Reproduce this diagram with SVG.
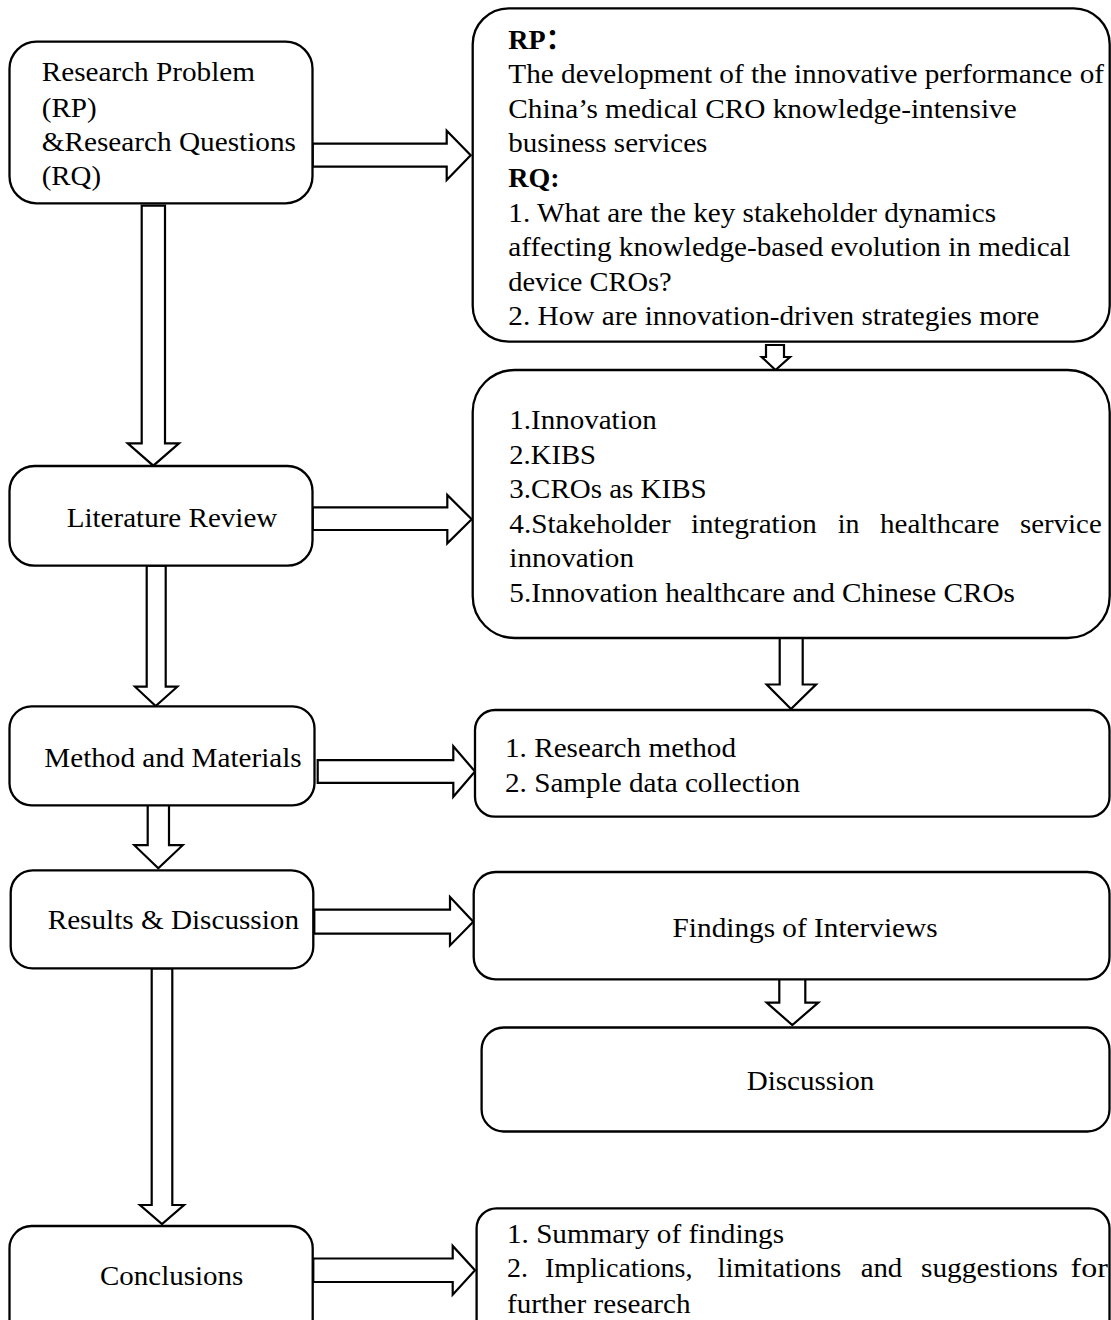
<svg xmlns="http://www.w3.org/2000/svg" width="1111" height="1320" viewBox="0 0 1111 1320">
<style>
  .box { fill: #fff; stroke: #000; stroke-width: 2.3; }
  .arr { fill: #fff; stroke: #000; stroke-width: 2.2; stroke-linejoin: miter; }
  text { font-family: "Liberation Serif", "Noto Sans CJK SC", serif; font-size: 28px; fill: #000; }
  .b { font-weight: bold; }
</style>
<rect width="1111" height="1320" fill="#fff"/>

<g id="connectors">
  <polygon class="arr" points="312.7,143.7 446.7,143.7 446.7,130.7 470.7,155.3 446.7,180 446.7,166.7 312.7,166.7"/>
  <polygon class="arr" points="312.7,507.3 447.3,507.3 447.3,495 471.7,519.3 447.3,543.3 447.3,530 312.7,530"/>
  <polygon class="arr" points="317.7,760.2 453.3,760.2 453.3,746.3 475,771.5 453.3,796.8 453.3,782.9 317.7,782.9"/>
  <polygon class="arr" points="314.3,909.6 450,909.6 450,897 473.3,921.8 450,945.4 450,933.6 314.3,933.6"/>
  <polygon class="arr" points="313.3,1258.5 452.7,1258.5 452.7,1245.9 475,1270.3 452.7,1294.7 452.7,1282 313.3,1282"/>
  <polygon class="arr" points="141.7,205.7 165,205.7 165,443.3 179,443.3 153.3,465.7 127.7,443.3 141.7,443.3"/>
  <polygon class="arr" points="146.7,565.7 165.7,565.7 165.7,686.7 177.3,686.7 155.7,706 135,686.7 146.7,686.7"/>
  <polygon class="arr" points="147.7,805 169,805 169,845.2 182.7,845.2 158.3,868.3 134.3,845.2 147.7,845.2"/>
  <polygon class="arr" points="151.7,968.5 172.3,968.5 172.3,1205 184,1205 162,1224 140,1205 151.7,1205"/>
  <polygon class="arr" points="766,345 784,345 784,357 790,357 775.5,370 761.7,357 766,357"/>
  <polygon class="arr" points="779.7,638 802.7,638 802.7,684.5 816,684.5 791,709 766.7,684.5 779.7,684.5"/>
  <polygon class="arr" points="779.3,976.7 805.3,976.7 805.3,1002.7 818.3,1002.7 792.3,1025 766.7,1002.7 779.3,1002.7"/>
</g>

<g id="node-rprq">
  <rect class="box" x="9.5" y="41.7" width="303" height="161.6" rx="27"/>
  <text x="41.7" y="81" textLength="213.3" lengthAdjust="spacingAndGlyphs">Research Problem</text>
  <text x="41.7" y="116.5" textLength="55" lengthAdjust="spacingAndGlyphs">(RP)</text>
  <text x="41.7" y="150.7" textLength="254.3" lengthAdjust="spacingAndGlyphs">&amp;Research Questions</text>
  <text x="41.7" y="185" textLength="59.3" lengthAdjust="spacingAndGlyphs">(RQ)</text>
</g>

<g id="node-literature">
  <rect class="box" x="9.5" y="466" width="303" height="99.7" rx="25"/>
  <text x="66.7" y="526.7" textLength="210.6" lengthAdjust="spacingAndGlyphs">Literature Review</text>
</g>

<g id="node-method">
  <rect class="box" x="9.5" y="706.3" width="305" height="99" rx="22"/>
  <text x="44.3" y="767.3" textLength="257.4" lengthAdjust="spacingAndGlyphs">Method and Materials</text>
</g>

<g id="node-results">
  <rect class="box" x="10.7" y="870.4" width="302.6" height="98" rx="22"/>
  <text x="47.7" y="929.4" textLength="251.3" lengthAdjust="spacingAndGlyphs">Results &amp; Discussion</text>
</g>

<g id="node-conclusions">
  <rect class="box" x="9.5" y="1226" width="303.2" height="130" rx="22"/>
  <text x="100" y="1285" textLength="143.3" lengthAdjust="spacingAndGlyphs">Conclusions</text>
</g>

<g id="node-rp-detail">
  <rect class="box" x="472.7" y="8.3" width="637" height="333.4" rx="36"/>
  <text class="b" x="508.3" y="49.3">RP：</text>
  <text x="508.3" y="83.3" textLength="595.7" lengthAdjust="spacingAndGlyphs">The development of the innovative performance of</text>
  <text x="508.3" y="117.7" textLength="508.4" lengthAdjust="spacingAndGlyphs">China’s medical CRO knowledge-intensive</text>
  <text x="508.3" y="152" textLength="199" lengthAdjust="spacingAndGlyphs">business services</text>
  <text class="b" x="508.3" y="186.5">RQ:</text>
  <text x="508.3" y="221.5" textLength="487.7" lengthAdjust="spacingAndGlyphs">1. What are the key stakeholder dynamics</text>
  <text x="508.3" y="256" textLength="562.4" lengthAdjust="spacingAndGlyphs">affecting knowledge-based evolution in medical</text>
  <text x="508.3" y="290.5" textLength="163.4" lengthAdjust="spacingAndGlyphs">device CROs?</text>
  <text x="508.3" y="325" textLength="531" lengthAdjust="spacingAndGlyphs">2. How are innovation-driven strategies more</text>
</g>

<g id="node-lit-detail">
  <rect class="box" x="472.7" y="370" width="637" height="268" rx="42"/>
  <text x="509.3" y="429" textLength="147.4" lengthAdjust="spacingAndGlyphs">1.Innovation</text>
  <text x="509.3" y="463.5" textLength="86.7" lengthAdjust="spacingAndGlyphs">2.KIBS</text>
  <text x="509.3" y="498" textLength="197.4" lengthAdjust="spacingAndGlyphs">3.CROs as KIBS</text>
  <text y="532.5"><tspan x="509.3" textLength="161.4" lengthAdjust="spacingAndGlyphs">4.Stakeholder</tspan> <tspan x="691" textLength="125.7" lengthAdjust="spacingAndGlyphs">integration</tspan> <tspan x="837.7" textLength="21.6" lengthAdjust="spacingAndGlyphs">in</tspan> <tspan x="880" textLength="119.3" lengthAdjust="spacingAndGlyphs">healthcare</tspan> <tspan x="1020" textLength="81.7" lengthAdjust="spacingAndGlyphs">service</tspan></text>
  <text x="509.3" y="567" textLength="124.7" lengthAdjust="spacingAndGlyphs">innovation</text>
  <text x="509.3" y="601.5" textLength="505.7" lengthAdjust="spacingAndGlyphs">5.Innovation healthcare and Chinese CROs</text>
</g>

<g id="node-method-detail">
  <rect class="box" x="475" y="710" width="634.5" height="106.7" rx="20"/>
  <text x="505" y="756.7" textLength="231" lengthAdjust="spacingAndGlyphs">1. Research method</text>
  <text x="505" y="791.7" textLength="295" lengthAdjust="spacingAndGlyphs">2. Sample data collection</text>
</g>

<g id="node-findings">
  <rect class="box" x="473.7" y="872" width="635.8" height="107.3" rx="22"/>
  <text x="672.6" y="936.5" textLength="265" lengthAdjust="spacingAndGlyphs">Findings of Interviews</text>
</g>

<g id="node-discussion">
  <rect class="box" x="481.6" y="1027.5" width="627.9" height="104" rx="22"/>
  <text x="746.7" y="1090" textLength="127.6" lengthAdjust="spacingAndGlyphs">Discussion</text>
</g>

<g id="node-conclusion-detail">
  <rect class="box" x="476.6" y="1208.3" width="632.9" height="140" rx="20"/>
  <text x="507" y="1242.7" textLength="277" lengthAdjust="spacingAndGlyphs">1. Summary of findings</text>
  <text y="1277.3"><tspan x="507">2.</tspan> <tspan x="545" textLength="147.6" lengthAdjust="spacingAndGlyphs">Implications,</tspan> <tspan x="717.5" textLength="123.7" lengthAdjust="spacingAndGlyphs">limitations</tspan> <tspan x="860.7" textLength="41.6" lengthAdjust="spacingAndGlyphs">and</tspan> <tspan x="921" textLength="137" lengthAdjust="spacingAndGlyphs">suggestions</tspan> <tspan x="1070.5" textLength="37.3" lengthAdjust="spacingAndGlyphs">for</tspan></text>
  <text x="507" y="1312.7" textLength="183.5" lengthAdjust="spacingAndGlyphs">further research</text>
</g>
</svg>
